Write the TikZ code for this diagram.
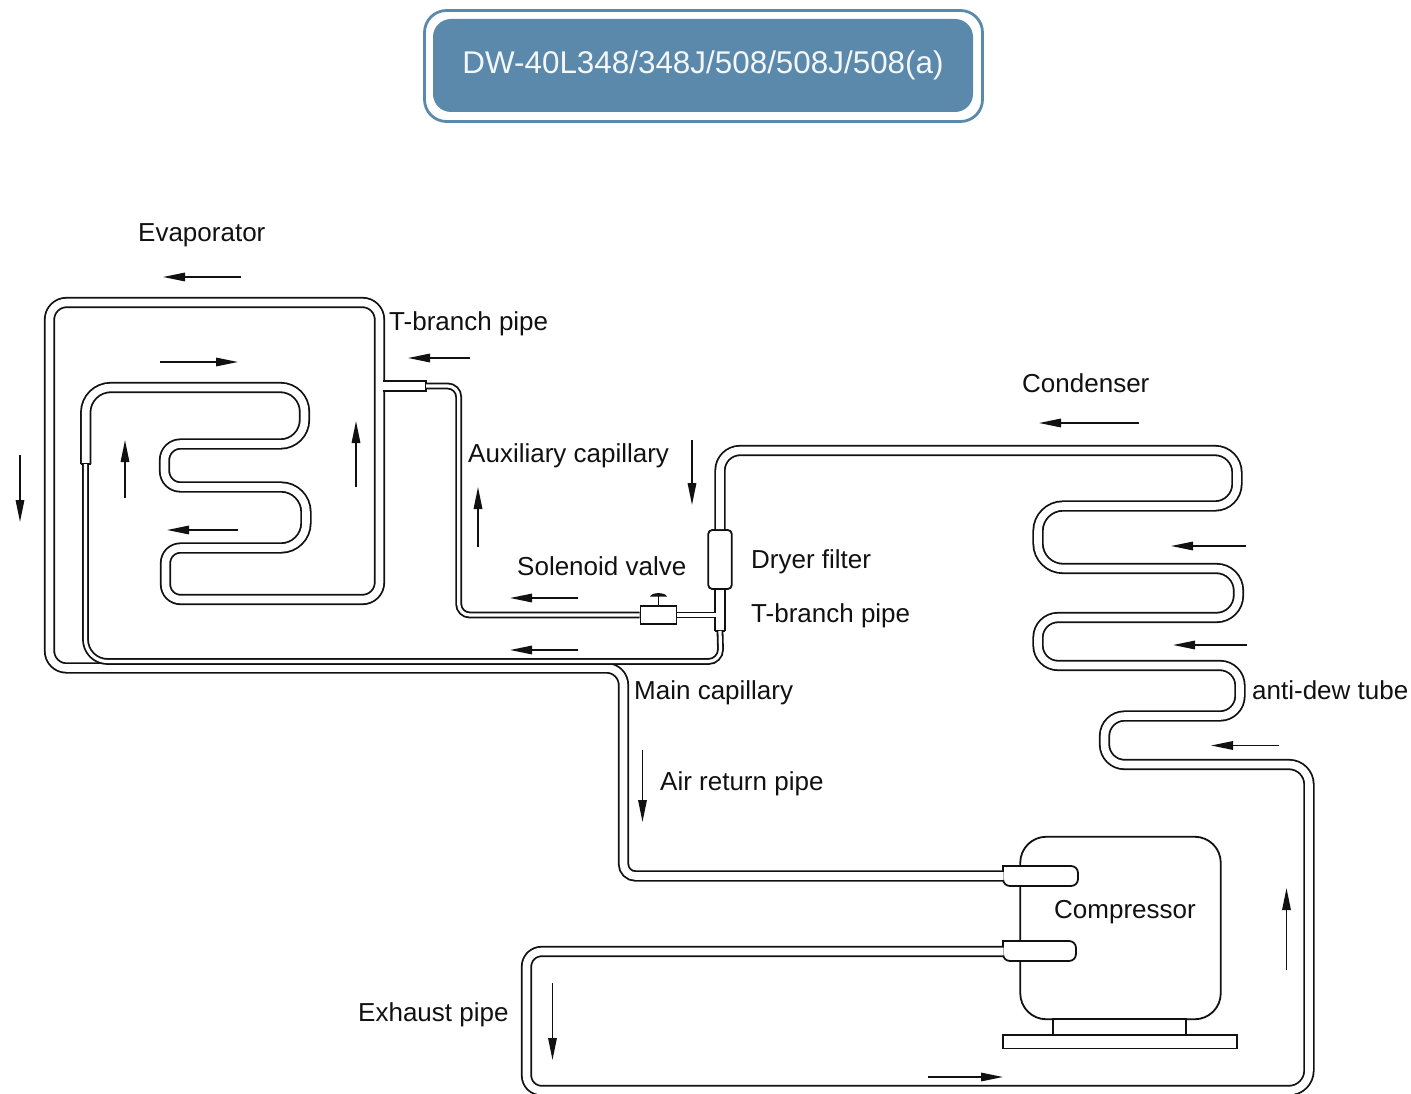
\documentclass[tikz,border=0pt]{standalone}
\usepackage{fontspec}
\setmainfont{Liberation Sans}
\usetikzlibrary{arrows.meta}
\definecolor{titleblue}{HTML}{5B89AC}
\definecolor{ink}{HTML}{111111}
\tikzset{
  tube/.style={draw=ink,line width=1.8pt,double=white,double distance=7.6pt},
  thintube/.style={draw=ink,line width=1.8pt,double=white,double distance=3.2pt},
  solid part/.style={draw=ink,line width=1.8pt,fill=white,inner sep=0pt},
  flow/.style={draw=ink,line width=1.6pt,-{Triangle[length=22pt,width=8.5pt]}},
  capline/.style={draw=ink,line width=1.8pt},
  lbl/.style={anchor=base west,inner sep=0pt,text=ink,font=\fontsize{26}{30}\selectfont},
}
\newcommand{\bend}[3]{arc[start angle=#1,end angle=#2,radius=#3pt]}
\begin{document}
\begin{tikzpicture}[x=1pt,y=-1pt]
\useasboundingbox (0,0) rectangle (1411,1094);
% title
\node[draw=titleblue,line width=2.8pt,rounded corners=22pt,minimum width=558pt,minimum height=111pt,inner sep=0pt,fill=white] (titleouter) at (703.5,66) {};
\node[fill=titleblue,rounded corners=18pt,minimum width=540pt,minimum height=93pt,inner sep=0pt] (titleinner) at (703,65.5) {};
\node[anchor=base,inner sep=0pt,text=white!93!titleblue,font=\fontsize{31.4}{38}\selectfont] (title) at (703,73.5) {DW-40L348/348J/508/508J/508(a)};
% compressor
\node[solid part,rounded corners=26pt,minimum width=200.5pt,minimum height=182.5pt] (compressor) at (1120.5,928) {};
\node[solid part,minimum width=133pt,minimum height=16pt] (stand) at (1119.5,1027) {};
\node[solid part,minimum width=234pt,minimum height=13.5pt] (base) at (1120,1041.8) {};
\draw[solid part,rounded corners=7pt] (1003,866) -- (1078,866) -- (1078,886) -- (1003,886) [sharp corners] -- cycle;
\draw[solid part,rounded corners=7pt] (1003,941) -- (1076,941) -- (1076,961) -- (1003,961) [sharp corners] -- cycle;
\coordinate (suction) at (1003.5,876);
\coordinate (discharge) at (1003.5,951.5);
% dryer filter, valve
\node[solid part,rounded corners=4pt,minimum width=23.5pt,minimum height=59pt] (dryer) at (720,559.5) {};
\node[solid part,minimum width=36pt,minimum height=18.5pt] (valve) at (658.5,615) {};
\draw[capline] (valve.north) -- ++(0,-11);
\fill[ink] (650,596.5) .. controls (652,592) and (665,592) .. (667,596.5) -- cycle;
\coordinate (tee) at (720,631);
% main pipe from compressor through evaporator
\draw[tube] (suction) -- (635.5,876) \bend{-90}{-180}{12}
  -- (623.5,685) \bend{0}{90}{17}
  -- (66.5,668) \bend{-90}{-180}{17}
  -- (49.5,319.5) \bend{180}{90}{17}
  -- (362.5,302.5) \bend{90}{0}{17}
  -- (379.5,582.5) \bend{0}{-90}{17}
  -- (180.5,599.5) \bend{-90}{-180}{15}
  -- (165.5,563) \bend{180}{90}{15}
  -- (281,548) \bend{-90}{0}{25}
  -- (306,512) \bend{0}{90}{25}
  -- (180.5,487) \bend{-90}{-180}{16}
  -- (164.5,460) \bend{180}{90}{16}
  -- (280.5,444) \bend{-90}{0}{24}
  -- (304.5,411.5) \bend{0}{90}{24}
  -- (110.7,387.5) \bend{90}{180}{25}
  -- (85.7,464);
\draw[capline] (80.5,464) -- (91,464);
% condenser line
\draw[tube] (dryer.north) -- (720,470.5) \bend{180}{90}{20}
  -- (1215,450.5) \bend{90}{0}{22}
  -- (1237,484) \bend{0}{-90}{22}
  -- (1063,506) \bend{90}{180}{25}
  -- (1038,543.5) \bend{180}{270}{25}
  -- (1216.5,568.5) \bend{90}{0}{22}
  -- (1238.5,595.5) \bend{0}{-90}{22}
  -- (1058,617.5) \bend{90}{180}{20}
  -- (1038,645.5) \bend{180}{270}{20}
  -- (1220,665.5) \bend{90}{0}{20}
  -- (1240,696) \bend{0}{-90}{20}
  -- (1124.5,716) \bend{90}{180}{20}
  -- (1104.5,744.5) \bend{180}{270}{20}
  -- (1289,764.5) \bend{90}{0}{20}
  -- (1309,1070.5) \bend{0}{-90}{20}
  -- (541.5,1090.5) \bend{-90}{-180}{15}
  -- (526.5,966.5) \bend{180}{90}{15}
  -- (discharge);
% lower T
\draw[tube] (dryer.south) -- (tee);
\draw[capline] (714.6,631) -- (725.4,631);
% main capillary
\draw[thintube] (85.5,464) -- (85.5,639.5) \bend{180}{270}{22}
  -- (708.5,661.5) \bend{-90}{0}{12} -- (tee);
% auxiliary branch
\coordinate (stubstart) at (383.3,386);
\coordinate (stubend) at (426,386);
\draw[tube] (stubstart) -- (stubend);
\draw[capline] (426,380.4) -- (426,391.6);
\draw[thintube] (stubend) -- (447.7,386) \bend{90}{0}{11}
  -- (458.7,604) \bend{180}{270}{11} -- (valve.west);
\coordinate (teeleft) at (716,615);
\draw[thintube] (valve.east) -- (teeleft);
% labels
\node[lbl] (evap) at (138,241) {Evaporator};
\node[lbl] (tb1) at (389,330) {T-branch pipe};
\node[lbl] (cond) at (1022,392) {Condenser};
\node[lbl] (aux) at (468,462) {Auxiliary capillary};
\node[lbl] (sol) at (517,575) {Solenoid valve};
\node[lbl] (dry) at (751,568) {Dryer filter};
\node[lbl] (tb2) at (751,622) {T-branch pipe};
\node[lbl] (mcap) at (634,699) {Main capillary};
\node[lbl] (dew) at (1252,699) {anti-dew tube};
\node[lbl] (air) at (660,790) {Air return pipe};
\node[lbl] (comp) at (1054,918) {Compressor};
\node[lbl] (exh) at (358,1021) {Exhaust pipe};
% flow arrows
\draw[flow] (241,277) -- (163,277);
\draw[flow] (160,362) -- (238,362);
\draw[flow] (20,455) -- (20,522);
\draw[flow] (125,497.5) -- (125,440);
\draw[flow] (356,487) -- (356,421);
\draw[flow] (238,530) -- (167,530);
\draw[flow] (470,358) -- (408,358);
\draw[flow] (478,547) -- (478,487);
\draw[flow] (692,440) -- (692,505);
\draw[flow] (578,598) -- (510,598);
\draw[flow] (578,650) -- (510,650);
\draw[flow] (1139,423) -- (1039,423);
\draw[flow] (1246,546) -- (1171,546);
\draw[flow] (1247,645) -- (1173,645);
\draw[flow] (1279,745.5) -- (1211,745.5);
\draw[flow] (642.5,750) -- (642.5,822);
\draw[flow] (1286.5,970) -- (1286.5,888);
\draw[flow] (552.5,983) -- (552.5,1060);
\draw[flow] (928,1077) -- (1003,1077);
\end{tikzpicture}
\end{document}
